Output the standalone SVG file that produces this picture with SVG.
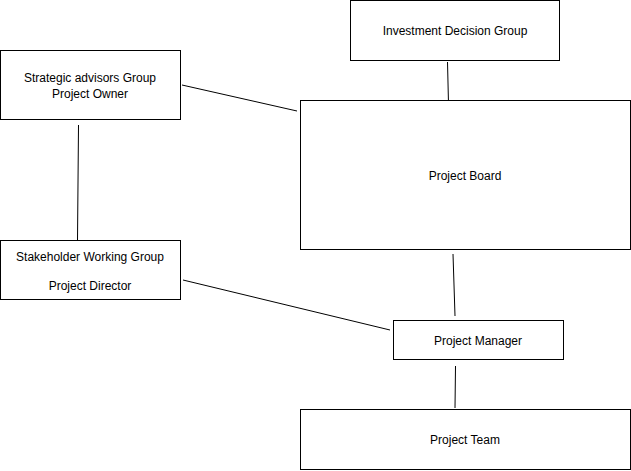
<svg xmlns="http://www.w3.org/2000/svg" width="631" height="471" viewBox="0 0 631 471">
<style>
rect{fill:#fff;stroke:#000;stroke-width:1}
text{font-family:"Liberation Sans",Arial,sans-serif;font-size:12px;fill:#000;text-anchor:middle}
line{stroke:#000;stroke-width:1}
</style>
<rect x="0" y="0" width="631" height="471" style="stroke:none"/>
<g id="connectors">
<line x1="447.5" y1="62" x2="448.5" y2="104"/>
<line x1="182" y1="85" x2="297" y2="111"/>
<line x1="78.5" y1="125" x2="77.5" y2="240"/>
<line x1="453" y1="254" x2="455" y2="316"/>
<line x1="183" y1="280" x2="390" y2="330"/>
<line x1="455.5" y1="366" x2="455" y2="408"/>
</g>
<g id="investment"><rect x="350.5" y="0.5" width="209" height="60"/><text x="455" y="35">Investment Decision Group</text></g>
<g id="strategic"><rect x="0.5" y="50.5" width="180" height="69"/><text x="90" y="82">Strategic advisors Group</text><text x="90" y="98">Project Owner</text></g>
<g id="board"><rect x="300.5" y="100.5" width="330" height="149"/><text x="465" y="180">Project Board</text></g>
<g id="stakeholder"><rect x="0.5" y="240.5" width="180" height="59"/><text x="90" y="261">Stakeholder Working Group</text><text x="90" y="290">Project Director</text></g>
<g id="manager"><rect x="393.5" y="320.5" width="170" height="39"/><text x="478" y="345">Project Manager</text></g>
<g id="team"><rect x="300.5" y="409.5" width="330" height="60"/><text x="465" y="444">Project Team</text></g>
</svg>
